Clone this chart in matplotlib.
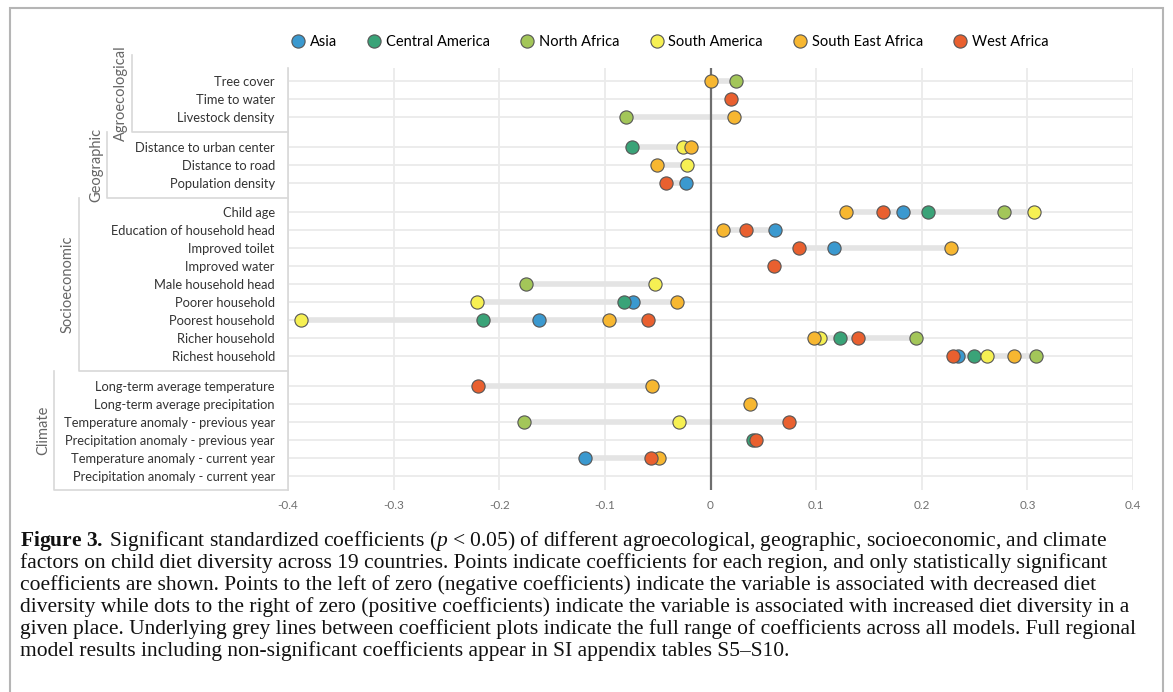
import numpy as np
import matplotlib
matplotlib.use("Agg")
import matplotlib.pyplot as plt
import matplotlib.transforms as mtransforms
from matplotlib.lines import Line2D
from matplotlib.patches import Rectangle

nan = np.nan

regions = ["Asia", "Central America", "North Africa", "South America",
           "South East Africa", "West Africa"]
colors = ["#3b99cf", "#3aa378", "#a3c659", "#f6f053", "#f7b731", "#e9602f"]

groups = ["Agroecological", "Geographic", "Socioeconomic", "Climate"]
group_sizes = [3, 3, 9, 6]
variables = [
    "Tree cover", "Time to water", "Livestock density",
    "Distance to urban center", "Distance to road", "Population density",
    "Child age", "Education of household head", "Improved toilet",
    "Improved water", "Male household head", "Poorer household",
    "Poorest household", "Richer household", "Richest household",
    "Long-term average temperature", "Long-term average precipitation",
    "Temperature anomaly - previous year", "Precipitation anomaly - previous year",
    "Temperature anomaly - current year", "Precipitation anomaly - current year",
]

# significant coefficients, one value per variable (nan = not significant)
asia = [nan, nan, nan, nan, nan, -0.023, 0.182, 0.061, 0.117, nan, nan,
        -0.073, -0.162, nan, 0.234, nan, nan, nan, nan, -0.119, nan]
central_america = [nan, nan, nan, -0.074, nan, nan, 0.206, nan, nan, nan, nan,
                   -0.082, -0.215, 0.123, 0.249, nan, nan, nan, 0.040, nan, nan]
north_africa = [0.024, nan, -0.080, nan, nan, nan, 0.278, nan, nan, nan, -0.175,
                nan, nan, 0.195, 0.308, nan, nan, -0.177, nan, nan, nan]
south_america = [nan, nan, nan, -0.026, -0.022, nan, 0.306, nan, nan, nan, -0.053,
                 -0.221, -0.388, 0.104, 0.262, nan, nan, -0.030, nan, nan, nan]
south_east_africa = [0.0, nan, 0.022, -0.018, -0.051, nan, 0.128, 0.012, 0.228, nan, nan,
                     -0.032, -0.096, 0.098, 0.287, -0.055, 0.037, nan, nan, -0.049, nan]
west_africa = [nan, 0.019, nan, nan, nan, -0.042, 0.163, 0.034, 0.084, 0.060, nan,
               nan, -0.059, 0.140, 0.230, -0.220, nan, 0.074, 0.043, -0.056, nan]
series = [asia, central_america, north_africa, south_america, south_east_africa, west_africa]

xticks = [-0.4, -0.3, -0.2, -0.1, 0, 0.1, 0.2, 0.3, 0.4]
xticklabels = ["-0.4", "-0.3", "-0.2", "-0.1", "0", "0.1", "0.2", "0.3", "0.4"]

caption = [
    "$\\mathbf{Figure\\ 3.}$\u2009Significant standardized coefficients ($\\mathit{p}$ < 0.05) of different agroecological, geographic, socioeconomic, and climate",
    "factors on child diet diversity across 19 countries. Points indicate coefficients for each region, and only statistically significant",
    "coefficients are shown. Points to the left of zero (negative coefficients) indicate the variable is associated with decreased diet",
    "diversity while dots to the right of zero (positive coefficients) indicate the variable is associated with increased diet diversity in a",
    "given place. Underlying grey lines between coefficient plots indicate the full range of coefficients across all models. Full regional",
    "model results including non-significant coefficients appear in SI appendix tables S5\u2013S10.",
]

plt.rcParams["font.family"] = ["Lato", "DejaVu Sans"]
plt.rcParams["mathtext.fontset"] = "custom"
plt.rcParams["mathtext.rm"] = "Liberation Serif"
plt.rcParams["mathtext.it"] = "Liberation Serif:italic"
plt.rcParams["mathtext.bf"] = "Liberation Serif:bold"

W, H = 1173, 692
fig = plt.figure(figsize=(W / 100, H / 100), dpi=100)
x_left, x_right, y_top, y_bot = 288, 1133, 68, 490
ax = fig.add_axes([x_left / W, 1 - y_bot / H, (x_right - x_left) / W, (y_bot - y_top) / H])

# row positions with a small gap between groups
group_idx = np.repeat(np.arange(len(group_sizes)), group_sizes)
ypos = np.arange(len(variables)) + 0.65 * group_idx
row_px = 18.0
ylim_top = -(81 - y_top) / row_px
ylim_bot = ypos[-1] + (y_bot - 476) / row_px

vals = np.array(series, dtype=float)
for i, y in enumerate(ypos):
    col = vals[:, i]
    if np.sum(~np.isnan(col)) > 1:
        ax.hlines(y, np.nanmin(col), np.nanmax(col), color="#e4e4e4", lw=4, zorder=2.5)

ax.axvline(0, color="#6e6e6e", lw=1.6, zorder=3)

for name, c, s in zip(regions, colors, series):
    s = np.array(s, dtype=float)
    ok = ~np.isnan(s)
    ax.plot(s[ok], ypos[ok], "o", ms=9.5, mfc=c, mec="#555555", mew=0.8, ls="", zorder=4)

ax.set_xlim(-0.4, 0.4)
ax.set_ylim(ylim_bot, ylim_top)
ax.set_xticks(xticks, xticklabels)
ax.set_yticks(ypos, variables)
ax.tick_params(axis="x", length=0, pad=7, labelsize=8.5, labelcolor="#707070")
ax.tick_params(axis="y", length=0, pad=9.5, labelsize=9.3, labelcolor="#333333")
ax.grid(True, color="#ebebeb", lw=1.3, zorder=0)
ax.set_axisbelow(True)
for side in ["top", "right", "bottom"]:
    ax.spines[side].set_visible(False)
ax.spines["left"].set_color("#d8d8d8")
ax.spines["left"].set_linewidth(1.2)

# group brackets on the left
trans = mtransforms.blended_transform_factory(ax.transAxes, ax.transData)
bracket_px = [132, 107, 79, 54]
ends = np.cumsum(group_sizes)
top = ylim_top - 13 / row_px
for g, name in enumerate(groups):
    if g < len(groups) - 1:
        bottom = (ypos[ends[g] - 1] + ypos[ends[g]]) / 2
    else:
        bottom = ylim_bot
    xf = (bracket_px[g] - x_left) / (x_right - x_left)
    ax.plot([xf, xf, 0], [top, bottom, bottom], color="#d8d8d8", lw=1.2,
            transform=trans, clip_on=False)
    xt = (bracket_px[g] - 11 - x_left) / (x_right - x_left)
    ax.text(xt, (top + bottom) / 2, name, rotation=90, ha="center", va="center",
            fontsize=10.5, color="#666666", transform=trans)
    top = bottom

handles = [Line2D([], [], marker="o", ls="", ms=9.5, mfc=c, mec="#555555", mew=0.8)
           for c in colors]
fig.legend(handles, regions, loc="center", bbox_to_anchor=(669 / W, 1 - 42 / H),
           ncol=6, frameon=False, fontsize=10.5, handletextpad=0.2,
           columnspacing=1.95, handlelength=1.2)

fig.add_artist(Rectangle((10 / W, -0.05), 1153 / W, 1.05 - 8 / H, transform=fig.transFigure,
                         fill=False, ec="#b5b5b5", lw=1.5))

for k, line in enumerate(caption):
    fig.text(20 / W, 1 - (541 + 22 * k) / H, line, ha="left", va="center",
             fontsize=15.5, family=["Liberation Serif", "DejaVu Serif"], color="#111111")

fig.savefig("out.png", dpi=100)
